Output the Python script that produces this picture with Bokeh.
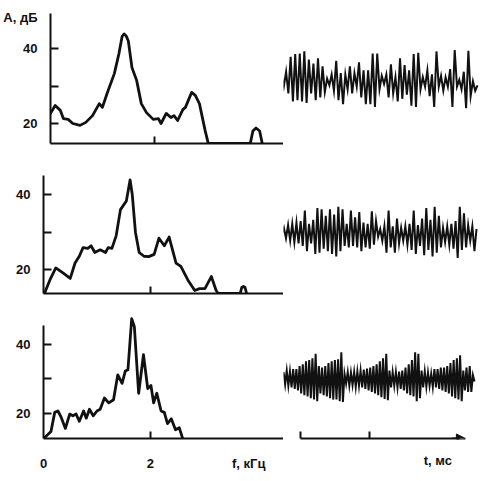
import numpy as np
from bokeh.plotting import figure
from bokeh.layouts import column, row
from bokeh.models import Range1d, FixedTicker, Arrow, NormalHead
from bokeh.embed import file_html
from bokeh.resources import INLINE

INK = "#111111"
FONT = "Liberation Sans"

# ---------------- spectra: frequency (kHz) and level A (dB) ----------------
f1 = [0.0, 0.09, 0.19, 0.25, 0.34, 0.43, 0.57, 0.68, 0.81, 0.94, 1.0, 1.09, 1.23, 1.32,
      1.38, 1.42, 1.46, 1.50, 1.57, 1.66, 1.75, 1.85, 1.98, 2.08, 2.13, 2.23, 2.32, 2.38,
      2.45, 2.55, 2.60, 2.72, 2.79, 2.87, 2.98, 3.04, 3.85, 3.90, 3.96, 4.03, 4.08]
a1 = [22.7, 24.8, 23.5, 21.3, 21.1, 20.0, 19.5, 20.3, 22.1, 25.3, 24.3, 28.0, 33.3, 38.7,
      43.2, 43.9, 43.3, 42.0, 34.9, 31.5, 25.3, 22.9, 21.1, 21.3, 20.0, 22.7, 21.6, 22.1,
      20.8, 23.7, 24.3, 28.3, 27.5, 25.3, 18.1, 14.7, 14.7, 18.0, 18.8, 18.0, 14.7]

f2 = [0.02, 0.12, 0.23, 0.37, 0.50, 0.59, 0.67, 0.74, 0.83, 0.89, 0.96, 1.06, 1.16, 1.21,
      1.28, 1.36, 1.44, 1.55, 1.62, 1.66, 1.72, 1.79, 1.88, 1.97, 2.07, 2.16, 2.26, 2.35,
      2.48, 2.57, 2.70, 2.83, 2.92, 3.02, 3.14, 3.23, 3.27, 3.68, 3.71, 3.74, 3.77, 3.80]
a2 = [13.8, 17.3, 20.5, 19.1, 17.7, 21.8, 23.6, 25.9, 25.7, 26.4, 24.6, 25.3, 24.6, 25.9,
      25.7, 29.1, 36.0, 38.3, 43.9, 40.1, 30.0, 24.6, 23.6, 23.5, 24.1, 28.4, 26.4, 28.7,
      21.8, 20.9, 17.3, 14.5, 15.0, 15.0, 18.2, 14.5, 13.7, 13.7, 15.3, 15.6, 15.3, 13.7]

f3 = [0.0, 0.14, 0.21, 0.27, 0.33, 0.41, 0.49, 0.55, 0.61, 0.67, 0.75, 0.80, 0.86, 0.93,
      1.0, 1.06, 1.14, 1.22, 1.31, 1.39, 1.47, 1.53, 1.58, 1.65, 1.70, 1.78, 1.87, 1.95,
      2.01, 2.06, 2.12, 2.20, 2.26, 2.32, 2.39, 2.47, 2.54, 2.60]
a3 = [12.5, 14.6, 20.2, 20.6, 18.8, 15.5, 19.7, 19.2, 19.7, 17.6, 20.6, 18.5, 21.1, 19.2,
      20.6, 21.1, 24.4, 23.0, 23.9, 31.2, 28.7, 32.3, 32.7, 47.7, 45.3, 25.8, 37.1, 27.2,
      28.1, 23.0, 25.8, 20.6, 20.2, 16.9, 18.3, 15.1, 15.7, 12.7]

# axis texts and tick positions
y_tick_marks = [20, 30, 40]
y_tick_labels = [20, 40]
A_TITLE = "A, дБ"
A_TITLE_POS = 48.3
f_tick_marks = [2]
f_tick_labels = [0, 2]
F_TITLE = "f, кГц"
F_TITLE_POS = 3.84
t_tick_marks = [0, 10]
T_TITLE = "t, мс"
T_TITLE_POS = 19.9

# ---------------- waveforms: successive extremes (relative amplitude) ----------------
w1 = [0.2, -0.2, 0.35, -0.45, 0.9, -0.75, 1.0, -0.7, 1.02, -0.75, 1.1, -0.8, 0.8, -0.45,
      0.65, -0.7, 0.85, -0.6, 0.55, -0.4, 0.1, -0.15, 0.25, -0.35, 0.75, -0.7, 0.3, -0.85,
      0.25, -0.3, 0.55, -0.45, 0.3, -0.2, 0.7, -0.6, 0.4, -0.85, 0.4, -0.85, 1.02, -0.95,
      1.02, -0.3, 0.2, -0.1, 0.25, -0.6, 0.62, -0.45, 0.15, -0.75, 0.85, -0.65, 0.6, -0.5,
      0.4, -0.9, 1.0, -0.95, 1.05, -0.3, 0.15, -0.2, 0.4, -0.55, 0.25, -0.95, 1.1, -0.2,
      0.2, -0.35, 0.15, -0.2, 0.45, -0.95, 1.15, -0.2, 0.05, -0.3, 0.35, -1.0, 1.12, -0.55,
      0.0, -0.35, -0.15]

w2 = [0.0, 0.26, -0.16, 0.37, -0.26, 0.42, -0.32, 0.47, -0.37, 0.53, -0.47, 0.95, -0.68,
      0.42, -0.37, 0.58, -0.79, 1.05, -0.74, 1.0, -0.58, 0.74, -0.68, 1.0, -0.79, 0.79,
      -0.89, 1.1, -0.68, 1.0, -0.47, 0.42, -0.53, 0.95, -0.47, 0.68, -0.53, 0.89, -0.68,
      0.47, -0.53, 0.42, -0.58, 0.92, -0.42, 0.53, -0.1, 0.21, -0.26, 0.32, -0.74, 0.95,
      -0.53, 0.32, -0.74, 0.63, -0.37, 0.26, -0.26, 0.32, -0.42, 0.42, -0.63, 0.95, -0.79,
      0.37, -0.47, 0.63, -0.84, 1.05, -0.63, 0.58, -0.89, 1.1, -0.74, 0.74, -0.53, 0.26,
      -0.32, 0.32, -0.42, 0.42, -0.58, 0.53, -0.95, 1.1, -0.63, 0.84, -0.53, 0.37, -0.26,
      0.32, -0.68, 0.21]

w3_up = [0.28, 0.33, 0.30, 0.39, 0.39, 0.50, 0.56, 0.67, 0.72, 0.78, 0.94,
         0.50, 0.44, 0.50, 0.61, 0.67, 0.72, 0.74, 1.00,
         0.22, 0.28, 0.26, 0.28, 0.30, 0.33, 0.37, 0.41, 0.44, 0.50, 0.56, 0.67, 0.78, 0.94,
         0.33, 0.28, 0.28, 0.30, 0.33, 0.44, 0.56, 0.72, 1.00, 0.94,
         0.33, 0.30, 0.26, 0.22, 0.39, 0.39, 0.44, 0.44, 0.50, 0.61, 0.72, 0.78, 0.89,
         0.33, 0.44, 0.50, 0.17]
w3_dn = [-0.17, -0.22, -0.28, -0.33, -0.39, -0.50, -0.56, -0.61, -0.67, -0.72, -0.78,
         -0.50, -0.56, -0.61, -0.67, -0.72, -0.72, -0.78, -0.81,
         -0.14, -0.22, -0.19, -0.26, -0.22, -0.28, -0.33, -0.39, -0.44, -0.50, -0.56, -0.63, -0.70, -0.74,
         -0.28, -0.22, -0.28, -0.33, -0.39, -0.50, -0.56, -0.61, -0.78, -0.67,
         -0.28, -0.26, -0.22, -0.26, -0.28, -0.33, -0.39, -0.44, -0.50, -0.61, -0.67, -0.72, -0.78,
         -0.39, -0.44, -0.44, -0.06]
w3 = [v for pair in zip(w3_up, w3_dn) for v in pair]

# time spans (ms) of the three traces
T1 = (-2.75, 25.65)
T2 = (-2.71, 25.51)
T3 = (-2.46, 25.22)
T_RANGE = (-2.754, 26.81)


def style_common(p):
    p.outline_line_color = None
    p.background_fill_color = "white"
    p.border_fill_color = "white"
    p.xgrid.visible = False
    p.ygrid.visible = False


def style_axis(ax, tick_len):
    ax.major_tick_line_color = None
    ax.minor_tick_in = tick_len
    ax.minor_tick_out = 0
    ax.minor_tick_line_width = 2
    ax.minor_tick_line_color = INK
    ax.axis_line_width = 2
    ax.axis_line_color = INK
    ax.major_label_text_font = FONT
    ax.major_label_text_font_style = "bold"
    ax.major_label_text_font_size = "13px"
    ax.major_label_text_color = INK


def spectrum(f, a, height, top, bottom, ylo, yhi, bottom_labels, title=False, ybounds=None):
    p = figure(width=283, height=height, x_range=Range1d(0, 4.49),
               y_range=Range1d(ylo, yhi), output_backend="svg", toolbar_location=None,
               min_border_left=43, min_border_right=0, min_border_top=top,
               min_border_bottom=bottom)
    style_common(p)
    p.line(f, a, line_width=2.8, color=INK, line_join="round", line_cap="round")

    ya = p.yaxis[0]
    majors = list(y_tick_labels) + ([A_TITLE_POS] if title else [])
    ya.ticker = FixedTicker(ticks=majors, minor_ticks=y_tick_marks)
    if title:
        ya.major_label_overrides = {A_TITLE_POS: A_TITLE}
    style_axis(ya, 8)
    ya.major_label_standoff = 7
    if ybounds is not None:
        ya.bounds = ybounds

    xa = p.xaxis[0]
    if bottom_labels:
        xa.ticker = FixedTicker(ticks=list(f_tick_labels) + [F_TITLE_POS], minor_ticks=f_tick_marks)
        xa.major_label_overrides = {F_TITLE_POS: F_TITLE}
        xa.major_label_standoff = 11
    else:
        xa.ticker = FixedTicker(ticks=[], minor_ticks=f_tick_marks)
        xa.major_label_standoff = 0
    style_axis(xa, 7)
    return p


def wave(vals, span, height, bottom, ylo, yhi, axis=False):
    p = figure(width=202, height=height, x_range=Range1d(T_RANGE[0] + 0.29, T_RANGE[1]),
               y_range=Range1d(ylo, yhi), output_backend="svg", toolbar_location=None,
               x_axis_type="linear" if axis else None, y_axis_type=None,
               min_border_left=0, min_border_right=0, min_border_top=0,
               min_border_bottom=bottom)
    style_common(p)
    t = np.linspace(span[0], span[1], len(vals))
    p.line(t, vals, line_width=2.0, color=INK, line_join="miter")
    return p


L1 = spectrum(f1, a1, 160, 13, 17, 14.67, 49.33, False, title=True)
L2 = spectrum(f2, a2, 150, 15, 17, 13.70, 45.07, False)
L3 = spectrum(f3, a3, 163, 5, 29, 12.54, 48.6, True, ybounds=(12.54, 45.8))

R1 = wave(w1, T1, 160, 0, -2.30, 2.50)
R2 = wave(w2, T2, 150, 0, -2.376, 2.356)
R3 = wave(w3, T3, 163, 29, -2.133, 2.333, axis=True)

xa = R3.xaxis[0]
xa.bounds = (0, 23.0)
xa.ticker = FixedTicker(ticks=[T_TITLE_POS], minor_ticks=t_tick_marks)
xa.major_label_overrides = {T_TITLE_POS: T_TITLE}
style_axis(xa, 7)
xa.major_label_standoff = 8
R3.add_layout(Arrow(end=NormalHead(size=9, fill_color=INK, line_color=INK, line_width=1),
                    x_start=22.0, y_start=-2.133, x_end=23.9, y_end=-2.133,
                    line_width=2, line_color=INK))

layout = column(row(L1, R1), row(L2, R2), row(L3, R3))
open("out.html", "w").write(file_html(layout, INLINE))
